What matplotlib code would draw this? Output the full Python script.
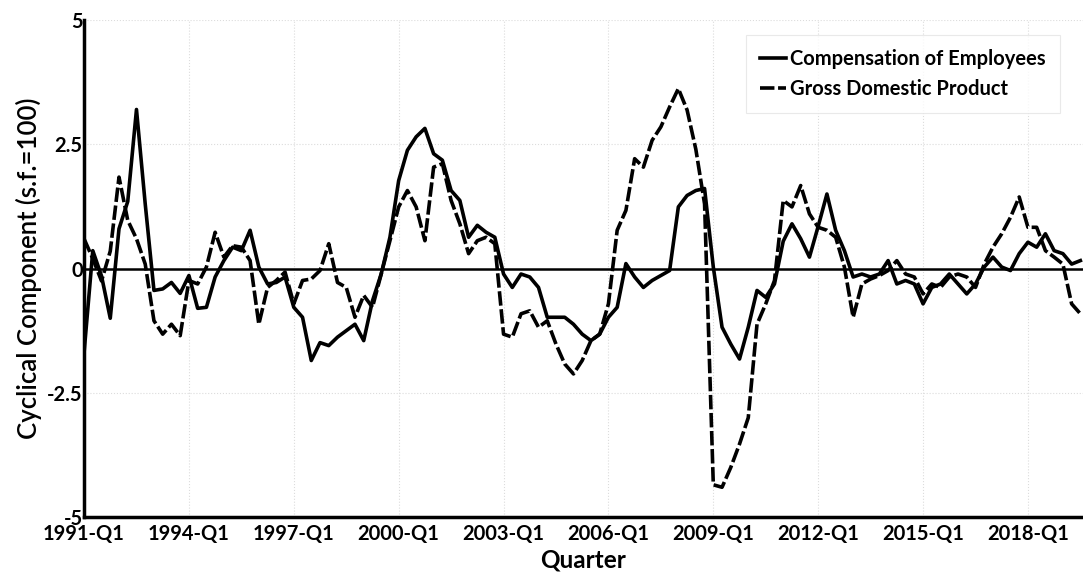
import numpy as np
import matplotlib.pyplot as plt

# cyclical components, quarterly from 1991-Q1
comp = [-1.7, 0.36, -0.15, -1.0, 0.8, 1.35, 3.2, 1.3, -0.44, -0.41,
        -0.28, -0.5, -0.14, -0.8, -0.78, -0.17, 0.16, 0.43, 0.36, 0.77,
        0.03, -0.31, -0.28, -0.17, -0.78, -0.98, -1.85, -1.49, -1.55, -1.38,
        -1.25, -1.12, -1.45, -0.65, -0.11, 0.63, 1.77, 2.38, 2.65, 2.82,
        2.31, 2.18, 1.57, 1.37, 0.63, 0.87, 0.73, 0.63, -0.11, -0.38,
        -0.11, -0.17, -0.38, -0.98, -0.98, -0.98, -1.12, -1.32, -1.45, -1.32,
        -0.98, -0.78, 0.1, -0.17, -0.38, -0.24, -0.14, -0.04, 1.24, 1.47,
        1.57, 1.61, 0.03, -1.18, -1.52, -1.82, -1.18, -0.44, -0.58, -0.31,
        0.55, 0.9, 0.6, 0.23, 0.85, 1.5, 0.77, 0.36, -0.17, -0.11,
        -0.17, -0.11, 0.16, -0.31, -0.24, -0.31, -0.71, -0.38, -0.31, -0.11,
        -0.31, -0.51, -0.31, 0.03, 0.23, 0.03, -0.04, 0.3, 0.53, 0.43,
        0.7, 0.36, 0.3, 0.09, 0.16]

gdp = [0.6, 0.2, -0.25, 0.35, 1.84, 0.97, 0.6, 0.09, -1.05, -1.32,
       -1.12, -1.35, -0.24, -0.31, 0.03, 0.73, 0.23, 0.46, 0.43, 0.16,
       -1.12, -0.38, -0.24, -0.07, -0.71, -0.24, -0.21, -0.04, 0.5, -0.28,
       -0.38, -0.98, -0.54, -0.78, -0.11, 0.56, 1.24, 1.57, 1.24, 0.56,
       2.04, 2.11, 1.37, 0.9, 0.3, 0.56, 0.63, 0.5, -1.32, -1.38,
       -0.91, -0.85, -1.18, -1.05, -1.52, -1.92, -2.12, -1.85, -1.45, -1.32,
       -0.71, 0.77, 1.17, 2.21, 2.04, 2.58, 2.85, 3.25, 3.62, 3.19,
       2.4, 1.3, -4.35, -4.4, -4.0, -3.53, -3.0, -1.12, -0.71, -0.24,
       1.37, 1.24, 1.67, 1.1, 0.83, 0.77, 0.63, 0.03, -0.98, -0.31,
       -0.21, -0.14, -0.04, 0.16, -0.11, -0.17, -0.51, -0.31, -0.38, -0.17,
       -0.11, -0.17, -0.38, 0.09, 0.43, 0.7, 1.03, 1.44, 0.83, 0.83,
       0.36, 0.23, 0.09, -0.71, -0.91]

quarters = [f"{1991 + i // 4}-Q{i % 4 + 1}" for i in range(len(comp))]
tick_labels = ["1991-Q1", "1994-Q1", "1997-Q1", "2000-Q1", "2003-Q1",
               "2006-Q1", "2009-Q1", "2012-Q1", "2015-Q1", "2018-Q1"]
y_ticks = [-5, -2.5, 0, 2.5, 5]
y_labels = ["-5", "-2.5", "0", "2.5", "5"]

plt.rcParams['font.family'] = ['Lato', 'DejaVu Sans']

fig = plt.figure(figsize=(10.83, 5.72), dpi=100)
ax = fig.add_axes([0.0776, 0.096, 0.9224, 0.869])

x = np.arange(len(comp))
ax.plot(x, comp, color='black', lw=2.6, label='Compensation of Employees',
        zorder=3)
ax.plot(x, gdp, color='black', lw=2.6, dashes=(4, 1),
        label='Gross Domestic Product', zorder=3)
ax.axhline(0, color='black', lw=1.8, zorder=2)

ax.set_xlim(0, 114.3)
ax.set_ylim(-5, 5)
ax.set_xticks([quarters.index(t) for t in tick_labels])
ax.set_xticklabels(tick_labels, fontsize=14.5, fontweight='bold')
ax.set_yticks(y_ticks)
ax.set_yticklabels(y_labels, fontsize=14.5, fontweight='bold')
ax.tick_params(axis='x', length=0, pad=5)
ax.tick_params(axis='y', length=0, pad=1)
ax.grid(True, color='#dcdcdc', ls=':', lw=0.8, zorder=1)

for s in ['top', 'right']:
    ax.spines[s].set_visible(False)
for s in ['left', 'bottom']:
    ax.spines[s].set_linewidth(2.5)

ax.set_xlabel('Quarter', fontsize=17.5, fontweight='bold', labelpad=3)
ax.set_ylabel('Cyclical Component (s.f.=100)', fontsize=18.5,
              fontweight='semibold', labelpad=4)

leg = ax.legend(loc='upper right', bbox_to_anchor=(0.987, 0.99),
                handlelength=1.3, handletextpad=0.2,
                fancybox=False, edgecolor='#e4e4e4', borderpad=0.7,
                labelspacing=0.5, prop={'weight': 'bold', 'size': 14.5})
leg.get_frame().set_linewidth(0.8)

fig.savefig('out.png', dpi=100)
